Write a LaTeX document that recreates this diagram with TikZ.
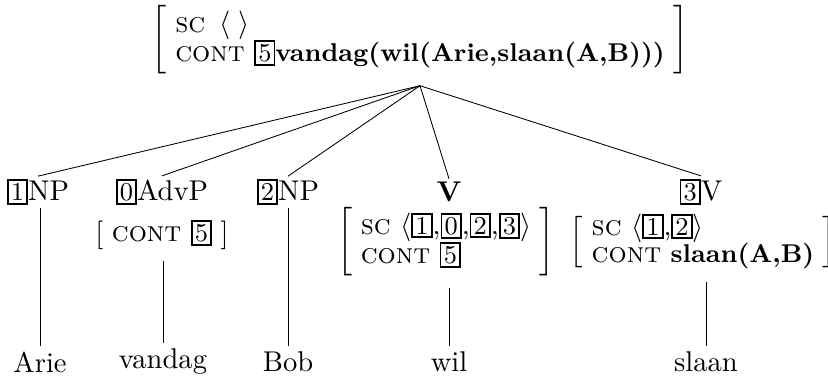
\documentclass[tikz,border=0pt]{standalone}
\usepackage{fontspec}
\usepackage{amsmath,amssymb}
\usepackage{tikz}
\usetikzlibrary{positioning,calc}

\newcommand{\tagbox}[1]{{\setlength{\fboxsep}{0.8pt}\setlength{\fboxrule}{0.6pt}\fbox{\small #1}}}
\newcommand{\feat}[1]{\textsc{\addfontfeature{LetterSpace=12}#1}}
\newcommand{\val}[1]{{\small\bfseries #1}}
\newcommand{\avmrows}[1]{$\left[\begin{tabular}{@{\hspace{3pt}}l@{\hspace{3pt}}}#1\end{tabular}\right]$}
\renewcommand{\arraystretch}{0.78}

\begin{document}
\begin{tikzpicture}[x=0.35pt,y=-0.35pt, line width=0.3pt]
  \tikzset{cat/.style={inner sep=1pt},
           avm/.style={inner sep=0pt, outer sep=4pt},
           word/.style={inner sep=1pt, outer sep=1pt}}
  \useasboundingbox (0,0) rectangle (828,378);

  \node (Mother) at (420,40) [avm] {\avmrows{\feat{sc} \,$\langle\;\rangle$\\ \feat{cont} \tagbox{5}\val{vandag(wil(Arie,slaan(A,B)))}}};
  \coordinate (Apex) at (Mother.south);

  \node (NPa) at (38,192) [cat] {\tagbox{1}NP};
  \node (AdvP) at (162,192) [cat] {\tagbox{0}AdvP};
  \node (NPb) at (288,192) [cat] {\tagbox{2}NP};
  \node (Vhead) at (449,192) [cat] {\textbf{V}};
  \node (Vcomp) at (701,192) [cat] {\tagbox{3}V};

  \node (AdvPavm) at (162,235) [avm] {\avmrows{\feat{cont} \tagbox{5}}};
  \node (Vavm) at (446,242) [avm] {\avmrows{\feat{sc} $\langle$\tagbox{1},\tagbox{0},\tagbox{2},\tagbox{3}$\rangle$\\ \feat{cont} \tagbox{5}}};
  \node (Vcompavm) at (703,242) [avm] {\avmrows{\feat{sc} $\langle$\tagbox{1},\tagbox{2}$\rangle$\\ \feat{cont} \val{slaan(A,B)}}};

  \node (Arie) at (40,362) [word] {Arie};
  \node (Vandag) at (163,362) [word] {vandag};
  \node (Bob) at (288,362) [word] {Bob};
  \node (Wil) at (449,362) [word] {wil};
  \node (Slaan) at (706,362) [word] {slaan};

  \draw (Apex) -- (NPa.north);
  \draw (Apex) -- (AdvP.north);
  \draw (Apex) -- (NPb.north);
  \draw (Apex) -- (Vhead.north);
  \draw (Apex) -- (Vcomp.north);

  \draw (NPa.south -| Arie) -- (Arie);
  \draw (AdvPavm.south -| Vandag) -- (Vandag);
  \draw (NPb.south -| Bob) -- (Bob);
  \draw (Vavm.south -| Wil) -- (Wil);
  \draw (Vcompavm.south -| Slaan) -- (Slaan);
\end{tikzpicture}
\end{document}
